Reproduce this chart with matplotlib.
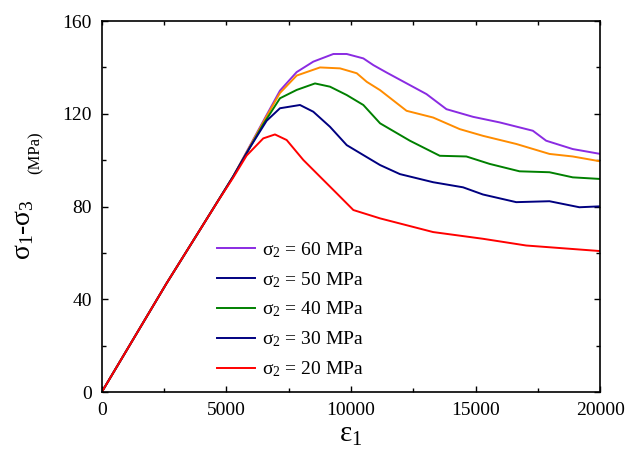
import matplotlib
matplotlib.use("Agg")
import matplotlib.pyplot as plt
from matplotlib.ticker import MultipleLocator

plt.rcParams['font.family'] = ['Liberation Serif', 'DejaVu Serif']
plt.rcParams['mathtext.fontset'] = 'custom'
plt.rcParams['mathtext.rm'] = 'Liberation Serif'
plt.rcParams['mathtext.it'] = 'Liberation Serif:italic'

# strain (x) and deviatoric stress (MPa)
eps_60 = [0, 2600, 3936, 5273, 6614, 7149, 7819, 8486, 9290, 9827, 10494, 10896, 11427, 13027, 13827,
          14893, 15960, 17293, 17827, 18893, 20000]
dev_60 = [0, 46.9, 69.9, 93, 119.5, 130, 138, 142.5, 145.8, 145.8, 143.9, 141, 137.8, 128.5, 122,
          118.7, 116.3, 112.7, 108.4, 104.8, 102.7]

eps_50 = [0, 2600, 3936, 5273, 6614, 7149, 7819, 8755, 9558, 10229, 10630, 11165, 12227, 13293, 14360,
          15293, 16627, 17960, 18893, 20000]
dev_50 = [0, 46.9, 69.9, 93, 119, 129, 136.5, 140, 139.6, 137.5, 133.8, 130.2, 121.3, 118.4, 113.4,
          110.5, 107, 102.7, 101.6, 99.5]

eps_40 = [0, 2600, 3936, 5273, 5811, 6478, 7149, 7819, 8554, 9156, 9827, 10494, 11165, 12360, 13560,
          14627, 15560, 16760, 17960, 18893, 20000]
dev_40 = [0, 46.9, 69.9, 93, 103, 115.5, 126.7, 130.3, 133.1, 131.7, 128.1, 123.8, 115.9, 108.4, 101.9,
          101.6, 98.4, 95.2, 94.8, 92.6, 91.9]

eps_30 = [0, 2600, 3936, 5273, 5944, 6614, 7149, 7952, 8486, 9156, 9827, 10494, 11165, 11960, 13293,
          14493, 15293, 16627, 17960, 19160, 20000]
dev_30 = [0, 46.9, 69.9, 93, 105.5, 117, 122.4, 123.8, 120.9, 114.4, 106.5, 102.2, 97.9, 94, 90.5,
          88.3, 85.2, 81.9, 82.3, 79.7, 80.1]

eps_20 = [0, 2600, 3936, 4700, 5273, 5811, 6478, 6948, 7417, 8085, 8755, 9426, 10093, 11165, 13293,
          15293, 17027, 20000]
dev_20 = [0, 46.9, 69.9, 83, 92.5, 102, 109.4, 111.1, 108.7, 100.1, 92.9, 85.7, 78.5, 74.9, 69,
          66.1, 63.2, 60.8]

labels = ["σ$_2$ = 60 MPa", "σ$_2$ = 50 MPa", "σ$_2$ = 40 MPa", "σ$_2$ = 30 MPa", "σ$_2$ = 20 MPa"]
colors = ["#8a2be2", "#ff8c00", "#008000", "#000080", "#ff0000"]
# legend swatches as drawn in the original (50 MPa shown in navy)
legend_colors = ["#8a2be2", "#000080", "#008000", "#000080", "#ff0000"]

fig = plt.figure(figsize=(6.4, 4.58), dpi=100)
ax = fig.add_axes([0.159, 0.144, 0.779, 0.81])

series = [(eps_60, dev_60), (eps_50, dev_50), (eps_40, dev_40), (eps_30, dev_30), (eps_20, dev_20)]
for (x, y), col, lab in zip(series, colors, labels):
    ax.plot(x, y, color=col, lw=1.4, label=lab)

ax.set_xlim(0, 20000)
ax.set_ylim(0, 160)
ax.xaxis.set_major_locator(MultipleLocator(5000))
ax.xaxis.set_minor_locator(MultipleLocator(2500))
ax.yaxis.set_major_locator(MultipleLocator(40))
ax.yaxis.set_minor_locator(MultipleLocator(20))
ax.tick_params(which='both', direction='in', top=True, right=True, labelsize=14, width=1)
ax.tick_params(which='major', length=4.5, pad=7)
ax.tick_params(which='minor', length=2.8)
for t in ax.xaxis.get_major_ticks():
    t.tick2line.set_markersize(2.8)
for s in ax.spines.values():
    s.set_linewidth(1.2)

ax.set_xlabel("ε$_1$", fontsize=21, labelpad=2)
fig.text(30 / 640, 1 - 260 / 458, "σ$_1$-σ$_3$", fontsize=20, rotation=90,
         rotation_mode='anchor', ha='left', va='baseline')
fig.text(40 / 640, 1 - 174 / 458, "(MPa)", fontsize=12, rotation=90,
         rotation_mode='anchor', ha='left', va='baseline')

leg = ax.legend(loc='lower left', bbox_to_anchor=(0.231, 0.035), frameon=False, fontsize=14,
                borderpad=0, borderaxespad=0, handlelength=1.95, handletextpad=0.35,
                labelspacing=0.52)
for h, c in zip(leg.get_lines(), legend_colors):
    h.set_color(c)

fig.savefig("out.png", dpi=100)
